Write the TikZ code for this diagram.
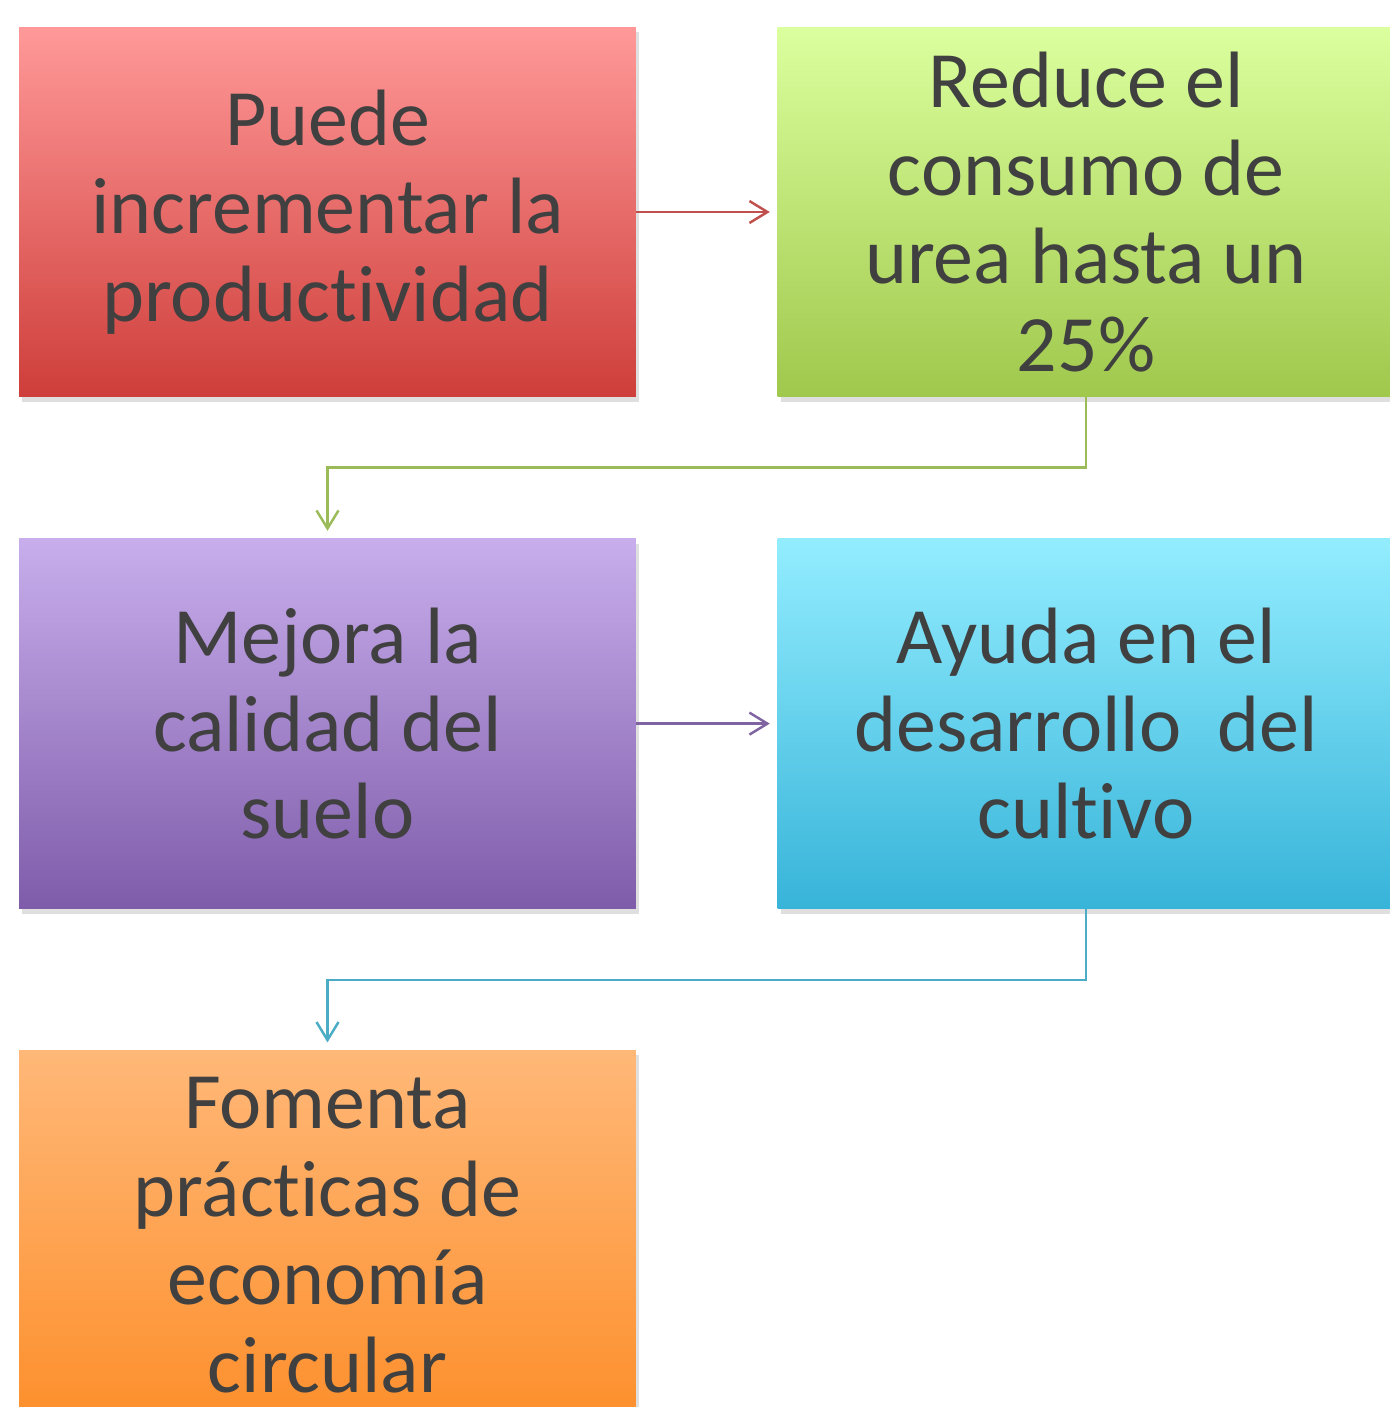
\documentclass[tikz,border=0pt]{standalone}
\usepackage{fontspec}
\setmainfont{Carlito}[RawFeature={-liga;-clig;-calt;-dlig}]
\usetikzlibrary{positioning,shadows,arrows.meta}
\definecolor{textgray}{HTML}{404040}
\definecolor{redtop}{HTML}{FF9999}
\definecolor{redbot}{HTML}{CE3E3A}
\definecolor{greentop}{HTML}{DBFF9E}
\definecolor{greenbot}{HTML}{A0C84C}
\definecolor{purpletop}{HTML}{C8AEEC}
\definecolor{purplebot}{HTML}{7F5CAA}
\definecolor{cyantop}{HTML}{93EDFF}
\definecolor{cyanbot}{HTML}{37B4D9}
\definecolor{orangetop}{HTML}{FFB878}
\definecolor{orangebot}{HTML}{FD8F2C}
\definecolor{redline}{HTML}{C0504D}
\definecolor{greenline}{HTML}{9BBB59}
\definecolor{purpleline}{HTML}{8064A2}
\definecolor{cyanline}{HTML}{4BACC6}

\begin{document}
\begin{tikzpicture}[x=0.02cm, y=-0.02cm, node distance=2.82cm,
    box/.style={rectangle, minimum width=12.34cm, minimum height=7.4cm,
      inner sep=0pt, align=center, text=textgray,
      font=\fontsize{45.5}{50}\selectfont,
      drop shadow={opacity=0.25, shadow xshift=0.06cm, shadow yshift=-0.1cm}},
    link/.style={-{Straight Barb[length=0.36cm,width=0.44cm]},
      line width=1.4pt, shorten >=0.15cm}]
    \useasboundingbox (0,0) rectangle (1390,1407);
    \node[box, top color=redtop, bottom color=redbot] (puede) at (327.5,212)
      {Puede\\incrementar la\\productividad};
    \node[box, top color=greentop, bottom color=greenbot, right=of puede] (reduce)
      {Reduce el\\consumo de\\urea hasta un\\25\%};
    \node[box, top color=purpletop, bottom color=purplebot, below=of puede] (mejora)
      {Mejora la\\calidad del\\suelo};
    \node[box, top color=cyantop, bottom color=cyanbot, right=of mejora] (ayuda)
      {Ayuda en el\\desarrollo\ \ del\\cultivo};
    \node[box, top color=orangetop, bottom color=orangebot, below=of mejora] (fomenta)
      {Fomenta\\prácticas de\\economía\\circular};
    \draw[link, redline] (puede) -- (reduce);
    \draw[link, greenline] (reduce.south) -- ++(0,-1.4cm) -| (mejora.north);
    \draw[link, purpleline] (mejora) -- (ayuda);
    \draw[link, cyanline] (ayuda.south) -- ++(0,-1.42cm) -| (fomenta.north);
\end{tikzpicture}
\end{document}
